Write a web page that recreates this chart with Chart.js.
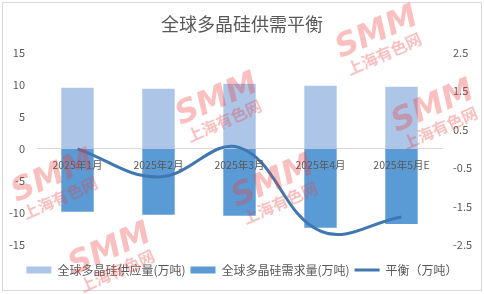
<!DOCTYPE html>
<html>
<head>
<meta charset="utf-8">
<script src="https://cdn.jsdelivr.net/npm/chart.js@4"></script>
<style>
  body { margin: 0; background: #fff; }
</style>
</head>
<body>
<canvas id="balanceChart" width="484" height="294"></canvas>
<script>
const categories = ['2025年1月', '2025年2月', '2025年3月', '2025年4月', '2025年5月E'];
const supply = [9.53, 9.38, 10.16, 9.84, 9.69];
const demand = [-9.80, -10.27, -10.42, -12.30, -11.72];
const balance = [0.0, -0.73, 0.03, -2.14, -1.77];

const textColor = '#595959';
const fontFamily = '"Noto Sans CJK SC", "Liberation Sans", sans-serif';

// Excel-style chart frame
const framePlugin = {
    id: 'frame',
    beforeDraw(chart) {
        const ctx = chart.ctx;
        ctx.save();
        ctx.fillStyle = '#fff';
        ctx.fillRect(0, 0, chart.width, chart.height);
        ctx.strokeStyle = '#d9d9d9';
        ctx.lineWidth = 1;
        ctx.strokeRect(2.5, 2.5, 479, 288);
        ctx.restore();
    }
};

// SMM watermark stamps (centre of the "SMM" word)
const stamps = [[377, 33], [217, 100], [433, 107], [53, 177], [273, 182], [110, 250]];
const watermarkPlugin = {
    id: 'watermark',
    afterDraw(chart) {
        const ctx = chart.ctx;
        ctx.save();
        ctx.fillStyle = 'rgba(240, 60, 60, 0.32)';
        ctx.textAlign = 'center';
        ctx.textBaseline = 'middle';
        stamps.forEach(([x, y]) => {
            ctx.save();
            ctx.translate(x, y);
            ctx.rotate(-0.42);
            ctx.font = 'italic bold 32px "DejaVu Sans", sans-serif';
            ctx.fillText('SMM', 0, 0);
            ctx.font = 'bold 16px "Noto Sans CJK SC", sans-serif';
            ctx.fillText('上海有色网', -2, 22);
            ctx.restore();
        });
        ctx.restore();
    }
};

new Chart(document.getElementById('balanceChart'), {
    type: 'bar',
    data: {
        labels: categories,
        datasets: [{
            label: '全球多晶硅供应量(万吨)',
            data: supply,
            backgroundColor: '#adc5e7',
            borderWidth: 0,
            pointStyle: 'rect',
            yAxisID: 'y',
            order: 1
        }, {
            label: '全球多晶硅需求量(万吨)',
            data: demand,
            backgroundColor: '#5b9bd5',
            borderWidth: 0,
            pointStyle: 'rect',
            yAxisID: 'y',
            order: 1
        }, {
            type: 'line',
            label: '平衡（万吨）',
            data: balance,
            borderColor: '#4177b0',
            backgroundColor: '#4177b0',
            borderWidth: 3,
            tension: 0.4,
            pointRadius: 0,
            pointStyle: 'line',
            yAxisID: 'y1',
            order: 0
        }]
    },
    options: {
        responsive: false,
        animation: false,
        devicePixelRatio: 1,
        layout: { padding: { left: 0, right: 0, top: 0, bottom: 8 } },
        datasets: {
            bar: { barPercentage: 0.4, categoryPercentage: 1.0 }
        },
        scales: {
            x: {
                stacked: true,
                position: { y: 0 },
                grid: { display: false, drawTicks: false },
                border: { display: true, color: '#d9d9d9', width: 1 },
                ticks: { z: 1, color: textColor, font: { family: fontFamily, size: 10.5 }, padding: 10, maxRotation: 0, autoSkip: false }
            },
            y: {
                stacked: true,
                position: 'left',
                min: -15,
                max: 15,
                grid: { display: false, drawTicks: false },
                border: { display: false },
                ticks: { stepSize: 5, color: textColor, font: { family: fontFamily, size: 11 }, padding: 12 },
                afterFit(scale) { scale.width = 37; }
            },
            y1: {
                position: 'right',
                min: -2.5,
                max: 2.5,
                grid: { display: false, drawTicks: false },
                border: { display: false },
                ticks: { stepSize: 1, color: textColor, font: { family: fontFamily, size: 11 }, padding: 11 },
                afterFit(scale) { scale.width = 42; }
            }
        },
        plugins: {
            title: {
                display: true,
                text: '全球多晶硅供需平衡',
                color: textColor,
                font: { family: fontFamily, size: 18, weight: 'normal' },
                padding: { top: 13, bottom: 18 }
            },
            // empty spacer between plot area and legend
            subtitle: {
                display: true,
                text: ' ',
                position: 'bottom',
                weight: 500,
                font: { size: 10 },
                padding: { top: 2, bottom: 0 }
            },
            legend: {
                position: 'bottom',
                labels: {
                    color: textColor,
                    font: { family: fontFamily, size: 12 },
                    usePointStyle: true,
                    pointStyleWidth: 25,
                    boxHeight: 7,
                    padding: 5,
                    sort: (a, b) => a.datasetIndex - b.datasetIndex
                }
            },
            tooltip: { enabled: false }
        }
    },
    plugins: [framePlugin, watermarkPlugin]
});
</script>
</body>
</html>
